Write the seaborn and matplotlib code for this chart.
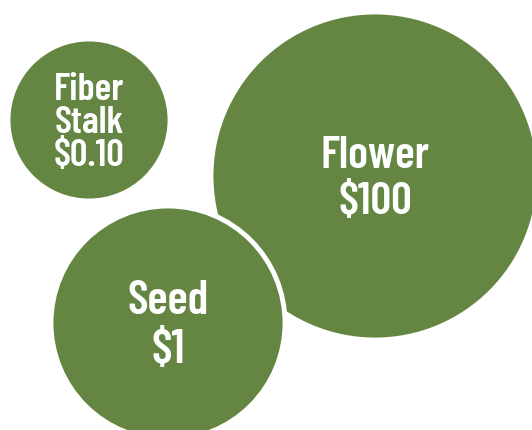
import pandas as pd
import matplotlib.pyplot as plt
import seaborn as sns

# bubble data (pixel layout of the reference)
labels = ["Flower", "Fiber Stalk", "Seed"]
prices = ["$100", "$0.10", "$1"]
x = [375, 89, 168]
y = [176, 120, 323]
radius = [164, 81, 117]
font_sizes = [33, 28, 34]
line_gaps = [1.16, 0.95, 1.15]

GREEN = "#658643"
DPI = 100

df = pd.DataFrame({"label": labels, "price": prices, "x": x, "y": y, "r": radius})
# marker area in points^2 so the diameter equals 2*r pixels
size_map = {row.label: (2 * row.r * 72 / DPI) ** 2 for row in df.itertuples()}

sns.set_style("white")
plt.rcParams['font.family'] = ['Barlow Condensed', 'DejaVu Sans']

fig = plt.figure(figsize=(5.32, 4.30), dpi=DPI)
ax = fig.add_axes([0, 0, 1, 1])
sns.scatterplot(data=df, x="x", y="y", size="label", sizes=size_map,
                color=GREEN, edgecolor="white", linewidth=3.5,
                legend=False, ax=ax, alpha=1)

for row, fs, ls in zip(df.itertuples(), font_sizes, line_gaps):
    text = row.label.replace(" ", "\n") + "\n" + row.price
    ax.text(row.x, row.y + 3, text, ha="center", va="center", color="white",
            fontsize=fs, fontweight=600, linespacing=ls)

ax.set_xlim(0, 532)
ax.set_ylim(430, 0)
ax.axis("off")

plt.savefig("out.png", dpi=DPI)
plt.close()
